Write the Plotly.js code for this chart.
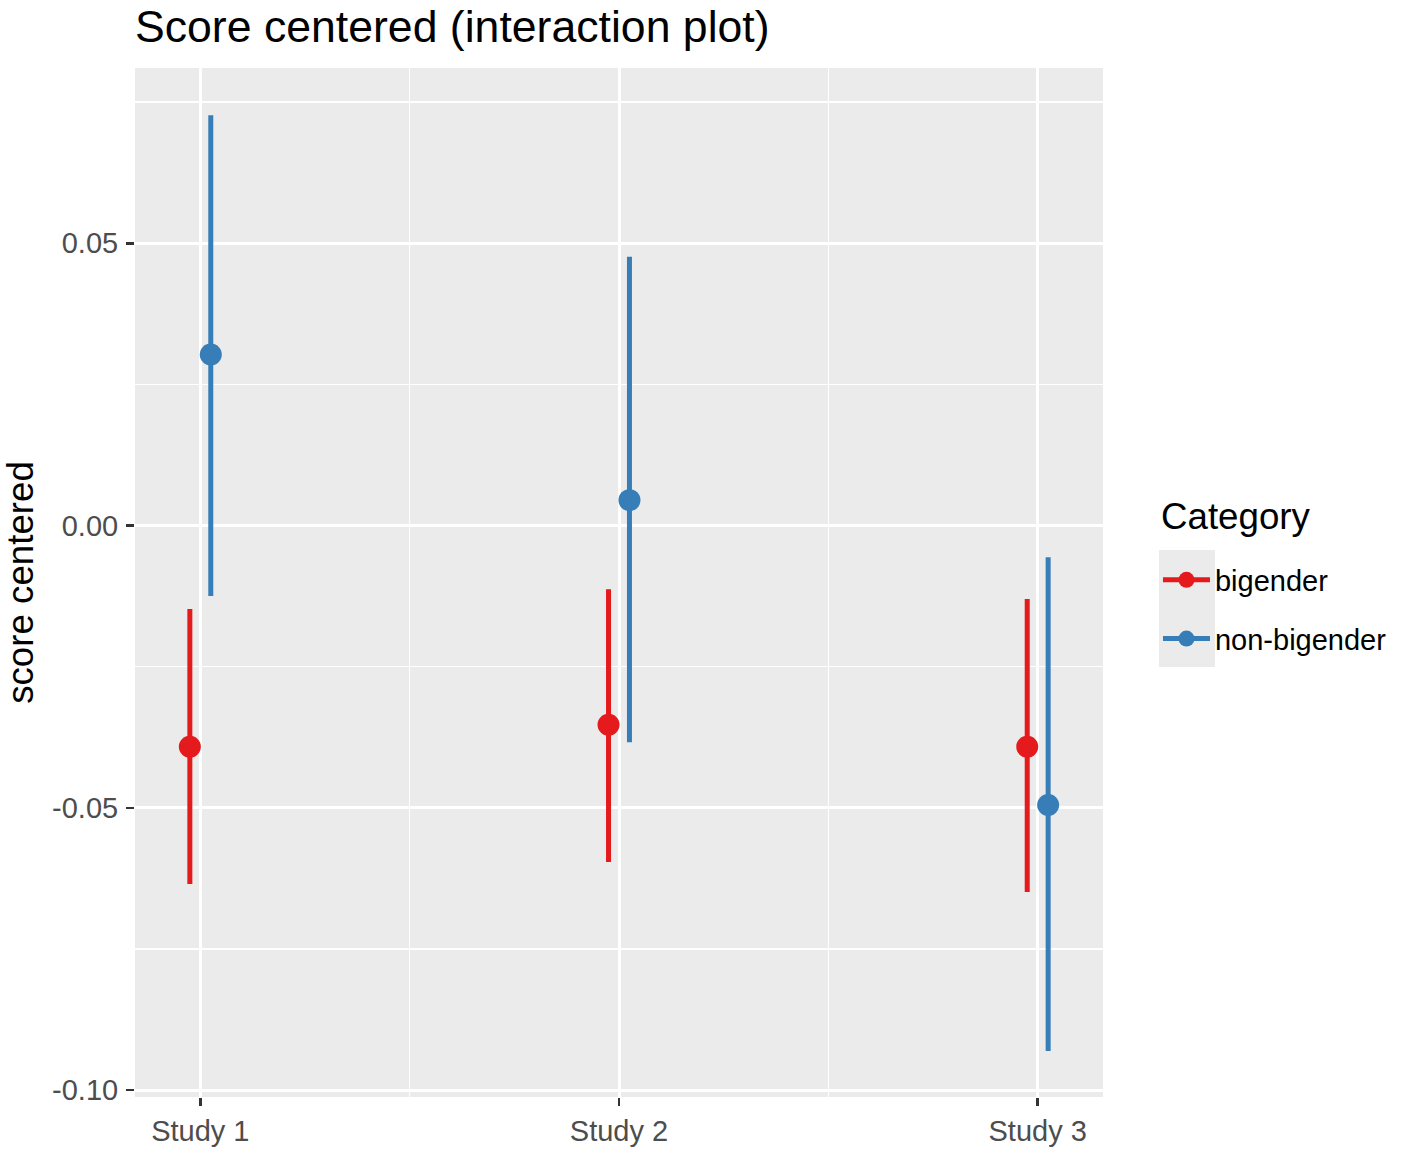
<!DOCTYPE html>
<html>
<head>
<meta charset="utf-8">
<script src="https://cdn.plot.ly/plotly-3.0.1.min.js"></script>
<style>
  body { margin: 0; background: #ffffff; }
  #myDiv { width: 1417px; height: 1149px; }
</style>
</head>
<body>
<div id="myDiv"></div>
<script>
// study labels and group estimates with lower / upper interval ends
var studies = ['Study 1', 'Study 2', 'Study 3'];

var bigender_mean = [-0.0392, -0.0353, -0.0392];
var bigender_low  = [-0.0635, -0.0596, -0.0649];
var bigender_high = [-0.0148, -0.0113, -0.0130];

var nonbig_mean = [0.0303, 0.0045, -0.0495];
var nonbig_low  = [-0.0125, -0.0384, -0.0931];
var nonbig_high = [0.0727, 0.0476, -0.0056];

var y_tickvals = [-0.10, -0.05, 0.00, 0.05];
var y_ticktext = ['-0.10', '-0.05', '0.00', '0.05'];

var dodge = 0.025;
var red = '#E41A1C';
var blue = '#377EB8';
var font = 'Liberation Sans, Arial, sans-serif';

// each point gets its own segment (null between) so no lines join the studies,
// but the legend still shows line + dot like ggplot's pointrange key
function makeTrace(name, color, mean, low, high, shift) {
  var x = [], y = [], plus = [], minus = [];
  for (var i = 0; i < studies.length; i++) {
    if (i > 0) { x.push(null); y.push(null); plus.push(null); minus.push(null); }
    x.push(i + shift);
    y.push(mean[i]);
    plus.push(high[i] - mean[i]);
    minus.push(mean[i] - low[i]);
  }
  return {
    x: x,
    y: y,
    type: 'scatter',
    mode: 'lines+markers',
    name: name,
    legendgroup: name,
    connectgaps: false,
    line: {color: color, width: 5},
    marker: {color: color, size: 22},
    error_y: {
      type: 'data',
      symmetric: false,
      array: plus,
      arrayminus: minus,
      color: color,
      thickness: 5,
      width: 0
    },
    hoverinfo: 'y'
  };
}

var bigender = makeTrace('bigender', red, bigender_mean, bigender_low, bigender_high, -dodge);
var nonbig = makeTrace('non-bigender', blue, nonbig_mean, nonbig_low, nonbig_high, dodge);

var data = [bigender, nonbig];

var layout = {
  width: 1417,
  height: 1149,
  paper_bgcolor: '#ffffff',
  plot_bgcolor: '#EBEBEB',
  margin: {l: 135, r: 314, t: 68, b: 52},
  font: {family: font, color: '#000000'},
  title: {
    text: 'Score centered (interaction plot)',
    font: {family: font, size: 44.6, color: '#000000'},
    x: 0.0953,
    xanchor: 'left',
    xref: 'container',
    y: 0.977,
    yanchor: 'middle',
    yref: 'container'
  },
  xaxis: {
    range: [-0.156, 2.156],
    tickmode: 'array',
    tickvals: [0, 1, 2],
    ticktext: studies,
    ticks: 'outside',
    ticklen: 8,
    tickwidth: 2.5,
    tickcolor: '#333333',
    tickfont: {family: font, size: 29, color: '#4D4D4D'},
    showgrid: true,
    gridcolor: '#ffffff',
    gridwidth: 3,
    minor: {tick0: 0.5, dtick: 1, showgrid: true, gridcolor: '#ffffff', gridwidth: 1.5, ticks: ''},
    zeroline: false,
    showline: false,
    fixedrange: true
  },
  yaxis: {
    range: [-0.10124, 0.08106],
    tickmode: 'array',
    tickvals: y_tickvals,
    ticktext: y_ticktext,
    ticks: 'outside',
    ticklen: 8,
    tickwidth: 2.5,
    tickcolor: '#333333',
    ticklabelstandoff: 2,
    tickfont: {family: font, size: 29, color: '#4D4D4D'},
    showgrid: true,
    gridcolor: '#ffffff',
    gridwidth: 3,
    minor: {tick0: 0, dtick: 0.025, showgrid: true, gridcolor: '#ffffff', gridwidth: 1.5, ticks: ''},
    zeroline: false,
    showline: false,
    title: {
      text: 'score centered',
      font: {family: font, size: 36.7, color: '#000000'},
      standoff: 12
    },
    fixedrange: true
  },
  showlegend: true,
  legend: {
    x: 1.0568,
    xanchor: 'left',
    y: 0.5272,
    yanchor: 'top',
    bgcolor: 'rgba(0,0,0,0)',
    traceorder: 'grouped',
    tracegroupgap: 18,
    itemwidth: 47,
    font: {family: font, size: 29, color: '#000000'}
  },
  annotations: [
    {
      text: 'Category',
      xref: 'paper', yref: 'paper',
      x: 1.0579, xanchor: 'left',
      y: 0.5637, yanchor: 'middle',
      showarrow: false,
      font: {family: font, size: 36.7, color: '#000000'}
    }
  ],
  shapes: [
    {
      type: 'rect',
      xref: 'paper', yref: 'paper',
      x0: 1.0579, x1: 1.1157,
      y0: 0.4179, y1: 0.5316,
      fillcolor: '#EBEBEB',
      line: {width: 0},
      layer: 'below'
    }
  ]
};

Plotly.newPlot('myDiv', data, layout, {displayModeBar: false, staticPlot: true});
</script>
</body>
</html>
